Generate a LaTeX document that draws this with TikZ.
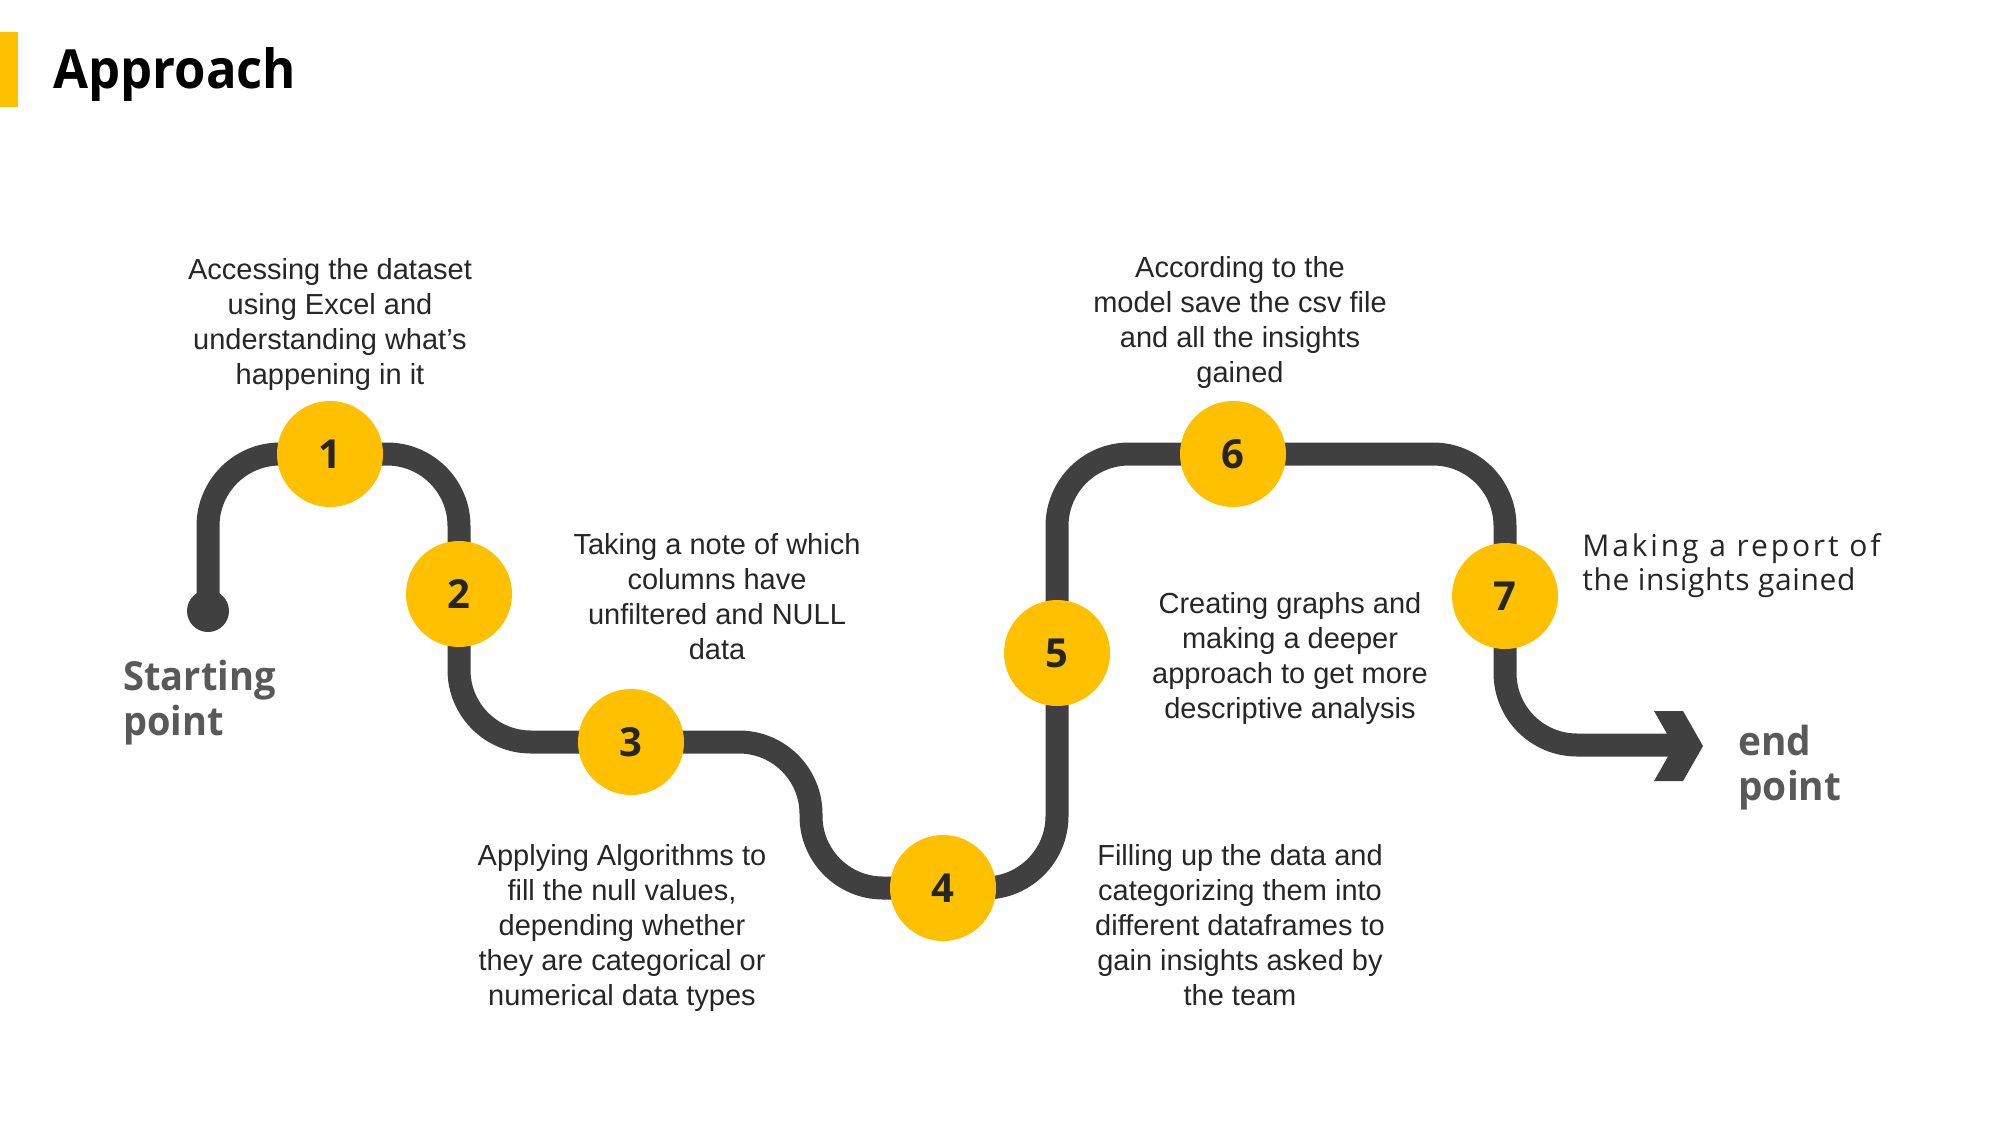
\documentclass[tikz,border=0pt]{standalone}
\usepackage{fontspec}
\setmainfont{Liberation Sans}
\newfontfamily\segoe{Open Sans}
\newfontfamily\segoespa[LetterSpace=9.5]{Open Sans}
\newfontfamily\segoespb[LetterSpace=2]{Open Sans}
\definecolor{track}{HTML}{404040}
\definecolor{gold}{HTML}{FFC000}
\definecolor{numc}{HTML}{262626}
\definecolor{txt}{HTML}{262626}
\definecolor{lab}{HTML}{595959}
\begin{document}
\begin{tikzpicture}[x=0.5pt,y=-0.5pt,
  trackline/.style={draw=track,line width=11.5pt,rounded corners=36pt},
  stepcirc/.style={circle,fill=gold,minimum size=53pt,inner sep=0pt,text=numc,font=\segoe\bfseries\fontsize{20}{24}\selectfont},
  desc/.style={align=center,text=txt,font=\fontsize{14.5}{17.5}\selectfont,inner sep=0pt},
  biglab/.style={align=left,text=lab,font=\segoe\bfseries\fontsize{20}{22.5}\selectfont,inner sep=0pt,anchor=west}
]
\useasboundingbox (0,0) rectangle (2000,1125);
\fill[gold] (0,32) rectangle (18,107);
\node[anchor=base west,inner sep=0pt,font=\segoe\bfseries\fontsize{27}{32}\selectfont] (title) at (53,88) {\scalebox{0.94}[1]{Approach}};

\coordinate (p0) at (208,611);
\coordinate (k1) at (208,454);
\coordinate (k2) at (459,454);
\coordinate (k3) at (459,742);
\coordinate (k4) at (811,742);
\coordinate (k5) at (811,888);
\coordinate (k6) at (1057,888);
\coordinate (k7) at (1057,454);
\coordinate (k8) at (1505,454);
\coordinate (k9) at (1505,745);
\coordinate (pend) at (1678,745);

\draw[trackline] (p0) -- (k1) -- (k2) -- (k3) -- (k4) -- (k5) -- (k6) -- (k7) -- (k8) -- (k9) -- (pend);
\node[circle,fill=track,minimum size=21pt,inner sep=0pt] (dot) at (p0) {};
\fill[track] (1654,711) -- (1683,711) -- (1703,746) -- (1683,781) -- (1654,781) -- (1674,746) -- cycle;
\coordinate (arrowtip) at (1703,746);

\node[stepcirc] (c1) at (330,454) {1};
\node[stepcirc] (c2) at (459,594) {2};
\node[stepcirc] (c3) at (631,742) {3};
\node[stepcirc] (c4) at (943,888) {4};
\node[stepcirc] (c5) at (1057,653) {5};
\node[stepcirc] (c6) at (1233,454) {6};
\node[stepcirc] (c7) at (1505,596) {7};

\node[desc] (t1) at (330,324) {Accessing the dataset\\using Excel and\\understanding what’s\\happening in it};
\node[desc] (t2) at (717,597) {Taking a note of which\\columns have\\unfiltered and NULL\\data};
\node[desc] (t3) at (622,928) {Applying Algorithms to\\fill the null values,\\depending whether\\they are categorical or\\numerical data types};
\node[desc] (t4) at (1240,925) {Filling up the data and\\categorizing them into\\different dataframes to\\gain insights asked by\\the team};
\node[desc] (t5) at (1290,658) {Creating graphs and\\making a deeper\\approach to get more\\descriptive analysis};
\node[desc] (t6) at (1240,322) {According to the\\model save the csv file\\and all the insights\\gained};
\node[align=left,anchor=west,inner sep=0pt,text=txt,font=\fontsize{15}{17}\selectfont] (t7) at (1582,566) {{\segoespa Making a report of}\\{\segoespb the insights gained}};

\node[biglab] (start) at (123,703) {\scalebox{0.95}[1]{Starting}\\\scalebox{0.95}[1]{point}};
\node[biglab] (endp) at (1738,768) {\scalebox{0.97}[1]{end}\\\scalebox{0.97}[1]{point}};
\end{tikzpicture}
\end{document}
